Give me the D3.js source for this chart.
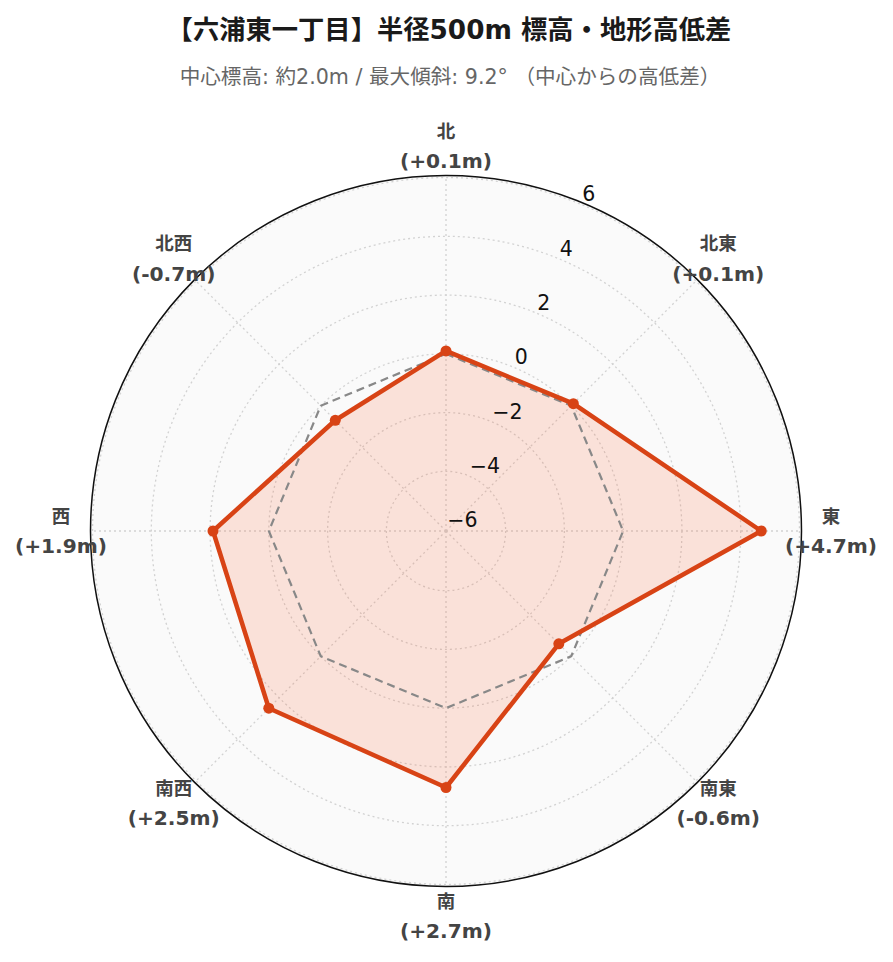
<!DOCTYPE html>
<html><head><meta charset="utf-8">
<script src="https://cdn.jsdelivr.net/npm/d3@7"></script>
<style>body{margin:0;background:#fff}svg{display:block}</style>
</head><body>
<svg id="c" width="893" height="962"></svg>
<script>
const directions = ["北","北東","東","南東","南","南西","西","北西"];
const diffs = [0.1, 0.1, 4.7, -0.6, 2.7, 2.5, 1.9, -0.7];
const diffLabels = ["(+0.1m)","(+0.1m)","(+4.7m)","(-0.6m)","(+2.7m)","(+2.5m)","(+1.9m)","(-0.7m)"];
const refValues = [0, 0, 0, 0, 0, 0, 0, 0];
const radialTicks = [-6, -4, -2, 0, 2, 4, 6];
const titleText = "【六浦東一丁目】半径500m 標高・地形高低差";
const subtitleText = "中心標高: 約2.0m / 最大傾斜: 9.2° （中心からの高低差）";

const font = '"DejaVu Sans","Noto Sans CJK JP",sans-serif';
const svg = d3.select("#c");
const cx = 446, cy = 531, R = 355.5;
const r = d3.scaleLinear().domain([-6.03, 6.07]).range([0, R]);
const angle = i => i * 2 * Math.PI / directions.length;
const px = (i, v) => cx + r(v) * Math.sin(angle(i));
const py = (i, v) => cy - r(v) * Math.cos(angle(i));

svg.append("text").attr("x", 449).attr("y", 30).attr("text-anchor","middle")
  .attr("dominant-baseline","central").attr("font-family", font).attr("font-weight","bold")
  .attr("font-size", 26.3).attr("fill","#1a1a1a").text(titleText);
svg.append("text").attr("x", 450).attr("y", 77).attr("text-anchor","middle")
  .attr("dominant-baseline","central").attr("font-family", font)
  .attr("font-size", 20.6).attr("fill","#666").text(subtitleText);

const g = svg.append("g");
g.append("circle").attr("cx", cx).attr("cy", cy).attr("r", R).attr("fill", "#fafafa");
g.selectAll(".gc").data(radialTicks).join("circle")
  .attr("cx", cx).attr("cy", cy).attr("r", d => r(d))
  .attr("fill","none").attr("stroke","#d2d2d2").attr("stroke-width",1.3).attr("stroke-dasharray","2,3");
g.selectAll(".sp").data(directions).join("line")
  .attr("x1", cx).attr("y1", cy)
  .attr("x2", (d,i) => cx + R*Math.sin(angle(i))).attr("y2", (d,i) => cy - R*Math.cos(angle(i)))
  .attr("stroke","#d2d2d2").attr("stroke-width",1.3).attr("stroke-dasharray","2,3");

const line = d3.lineRadial().angle((d,i) => angle(i)).radius(d => r(d)).curve(d3.curveLinearClosed);
const poly = g.append("g").attr("transform", `translate(${cx},${cy})`);
poly.append("path").attr("d", line(diffs)).attr("fill", "rgba(255,87,34,0.15)").attr("stroke","none");
poly.append("path").attr("d", line(refValues)).attr("fill","none").attr("stroke","#888")
  .attr("stroke-width",2.2).attr("stroke-dasharray","8,5");
poly.append("path").attr("d", line(diffs)).attr("fill","none").attr("stroke","#d84315")
  .attr("stroke-width",4.5).attr("stroke-linejoin","round");
g.selectAll(".pt").data(diffs).join("circle")
  .attr("cx", (d,i) => px(i,d)).attr("cy", (d,i) => py(i,d)).attr("r", 5.5).attr("fill","#d84315");

g.append("circle").attr("cx", cx).attr("cy", cy).attr("r", R).attr("fill","none").attr("stroke","#111").attr("stroke-width",1.5);

const ta = Math.PI / 8;
g.selectAll(".rt").data(radialTicks).join("text")
  .attr("x", d => cx + r(d)*Math.sin(ta) + 1)
  .attr("y", d => cy - r(d)*Math.cos(ta) - 3)
  .attr("font-family", font).attr("font-size", 20.5).attr("fill","#111")
  .text(d => d < 0 ? "\u2212" + Math.abs(d) : String(d));

const LR = 385;
const lab = g.selectAll(".lab").data(directions).join("g")
  .attr("transform", (d,i) => `translate(${cx + LR*Math.sin(angle(i))},${cy - LR*Math.cos(angle(i))})`);
lab.append("text").attr("y", -15).attr("text-anchor","middle").attr("dominant-baseline","central")
  .attr("font-family", font).attr("font-weight","bold").attr("font-size", 18.5).attr("fill","#444")
  .text(d => d);
lab.append("text").attr("y", 15).attr("text-anchor","middle").attr("dominant-baseline","central")
  .attr("font-family", font).attr("font-weight","bold").attr("font-size", 20.2).attr("fill","#444")
  .text((d,i) => diffLabels[i]);
</script>
</body></html>
